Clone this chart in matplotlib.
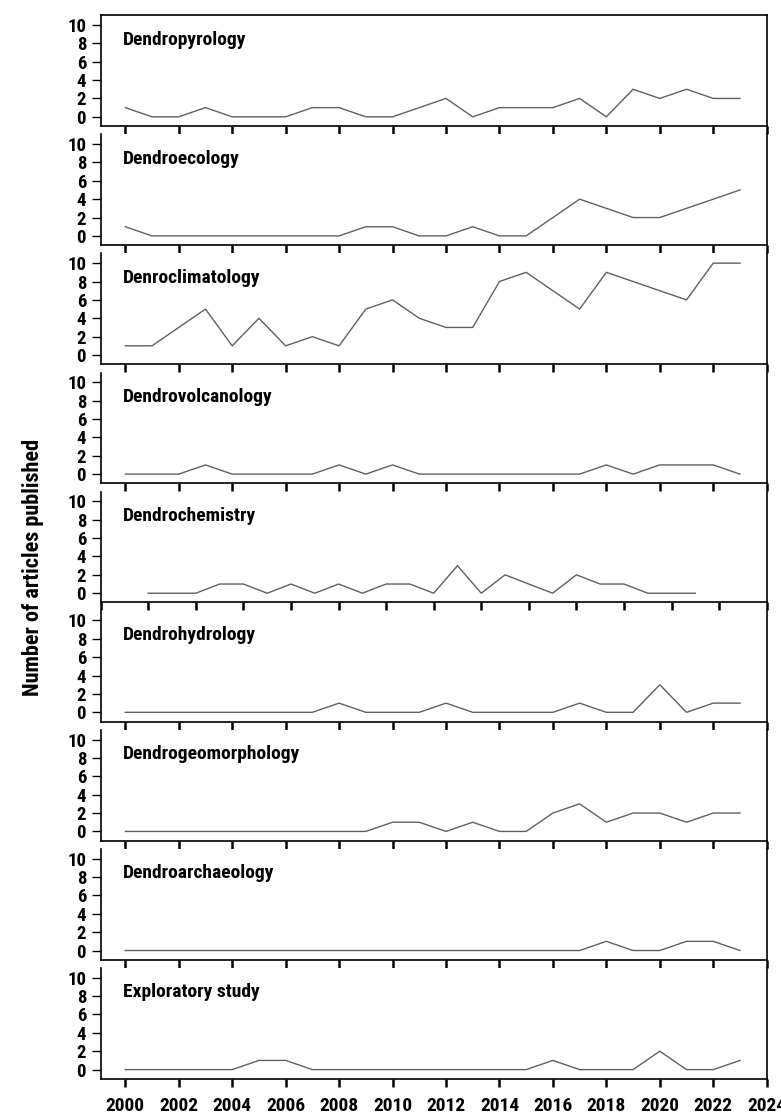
# -*- coding: utf-8 -*-
"""
Number of articles published per year, one panel per topic
"""

import numpy as np
import matplotlib
matplotlib.use("Agg")
import matplotlib.pyplot as plt


years = list(range(2000, 2024))

topics = [
    "Dendropyrology",
    "Dendroecology",
    "Denroclimatology",
    "Dendrovolcanology",
    "Dendrochemistry",
    "Dendrohydrology",
    "Dendrogeomorphology",
    "Dendroarchaeology",
    "Exploratory study",
    ]

pyrology = [1, 0, 0, 1, 0, 0, 0, 1, 1, 0, 0, 1, 2, 0, 1, 1, 1, 2, 0, 3, 2, 3, 2, 2]
ecology = [1, 0, 0, 0, 0, 0, 0, 0, 0, 1, 1, 0, 0, 1, 0, 0, 2, 4, 3, 2, 2, 3, 4, 5]
climatology = [1, 1, 3, 5, 1, 4, 1, 2, 1, 5, 6, 4, 3, 3, 8, 9, 7, 5, 9, 8, 7, 6, 10, 10]
volcanology = [0, 0, 0, 1, 0, 0, 0, 0, 1, 0, 1, 0, 0, 0, 0, 0, 0, 0, 1, 0, 1, 1, 1, 0]
chemistry = [0, 0, 0, 1, 1, 0, 1, 0, 1, 0, 1, 1, 0, 3, 0, 2, 1, 0, 2, 1, 1, 0, 0, 0]
hydrology = [0, 0, 0, 0, 0, 0, 0, 0, 1, 0, 0, 0, 1, 0, 0, 0, 0, 1, 0, 0, 3, 0, 1, 1]
geomorphology = [0, 0, 0, 0, 0, 0, 0, 0, 0, 0, 1, 1, 0, 1, 0, 0, 2, 3, 1, 2, 2, 1, 2, 2]
archaeology = [0, 0, 0, 0, 0, 0, 0, 0, 0, 0, 0, 0, 0, 0, 0, 0, 0, 0, 1, 0, 0, 1, 1, 0]
exploratory = [0, 0, 0, 0, 0, 1, 1, 0, 0, 0, 0, 0, 0, 0, 0, 0, 1, 0, 0, 0, 2, 0, 0, 1]

series = [pyrology, ecology, climatology, volcanology, chemistry,
          hydrology, geomorphology, archaeology, exploratory]

y_ticks = [0, 2, 4, 6, 8, 10]
x_ticks = list(range(2000, 2025, 2))
# the chemistry panel was drawn on a wider x range in the original
x_ticks_chem = list(range(1998, 2027, 2))

# %%

# narrow bold font if one is there, otherwise Roboto
fam = ["Liberation Sans Narrow", "DejaVu Sans Condensed", "Roboto Condensed",
       "Roboto", "DejaVu Sans"]
plt.rcParams["font.family"] = fam
plt.rcParams["font.weight"] = "bold"
plt.rcParams["font.stretch"] = "condensed"

W, H = 781, 1119
fig = plt.figure(figsize=(W / 100, H / 100), dpi=100)

left_px, right_px = 100.7, 766.7
box_h = 110.7
step = 119.1

for i, (name, vals) in enumerate(zip(topics, series)):
    bottom_px = 126 + step * i
    ax = fig.add_axes([left_px / W, 1 - bottom_px / H,
                       (right_px - left_px) / W, box_h / H])
    ax.plot(years, vals, color="#606060", lw=1.0)

    if name == "Dendrochemistry":
        ax.set_xlim(1998, 2026)
        ax.set_xticks(x_ticks_chem)
    else:
        ax.set_xlim(1999.08, 2024)
        ax.set_xticks(x_ticks)
    ax.set_ylim(-1.0, 11.05)
    ax.set_yticks(y_ticks)

    for s in ax.spines.values():
        s.set_linewidth(1.2)
    if i > 0:
        ax.spines["top"].set_visible(False)

    ax.tick_params(axis="y", length=6.5, width=1, pad=4, labelsize=13.5)
    ax.tick_params(axis="x", length=6, width=1.8, pad=7, labelsize=14)
    if i < len(topics) - 1:
        ax.tick_params(axis="x", labelbottom=False)

    ax.text(0.034, 0.78, name, transform=ax.transAxes,
            fontsize=14, fontweight="bold", va="center", ha="left")

fig.text(33 / W, 1 - 567 / H, "Number of articles published",
         rotation=90, fontsize=16, fontweight="bold",
         ha="center", va="center")

fig.savefig("out.png", dpi=100)
